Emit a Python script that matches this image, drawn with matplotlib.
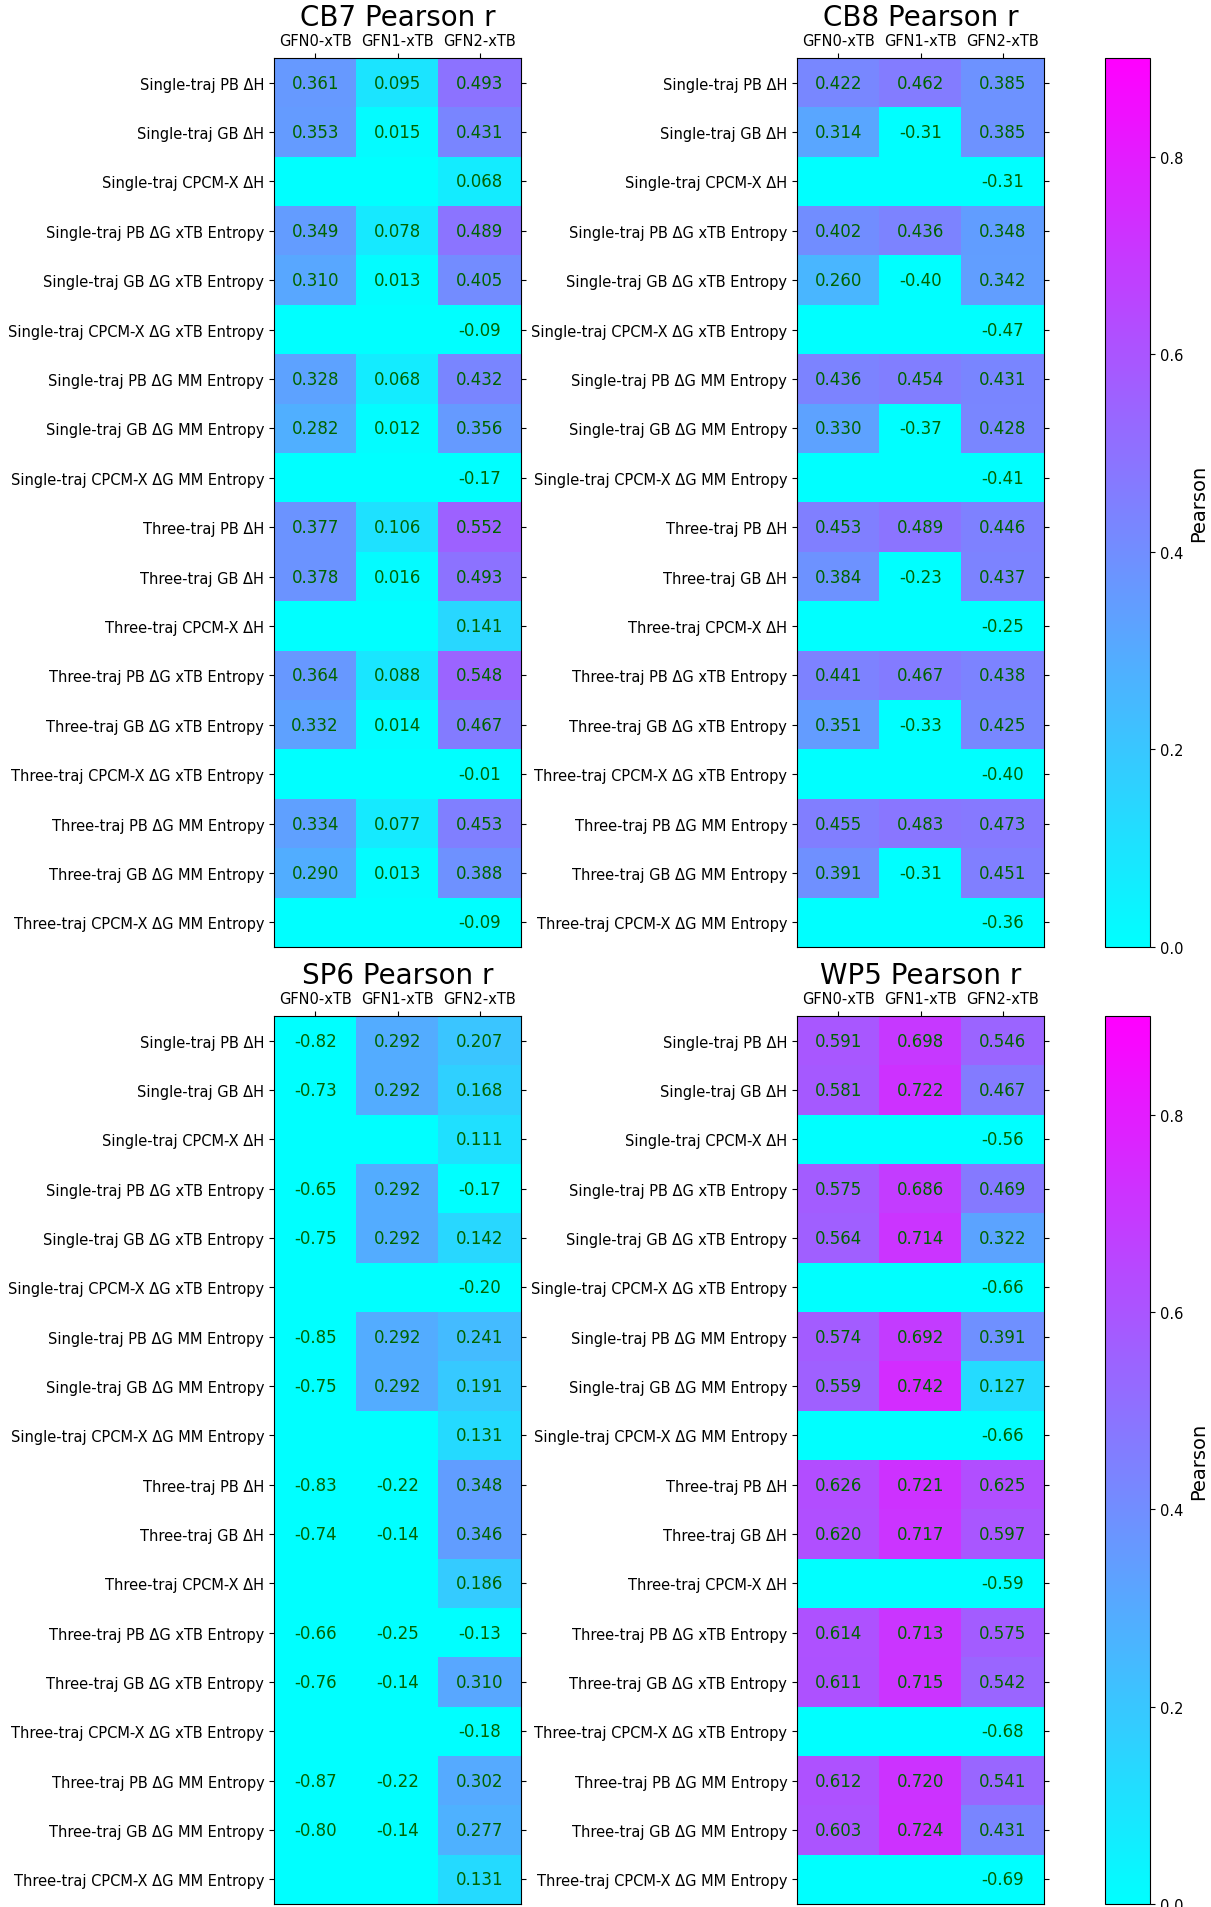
import matplotlib
matplotlib.use('Agg')
import matplotlib.pyplot as plt
import numpy as np

nan = np.nan

methods = ['GFN0-xTB', 'GFN1-xTB', 'GFN2-xTB']
rows = ['Single-traj PB ΔH', 'Single-traj GB ΔH', 'Single-traj CPCM-X ΔH',
        'Single-traj PB ΔG xTB Entropy', 'Single-traj GB ΔG xTB Entropy',
        'Single-traj CPCM-X ΔG xTB Entropy',
        'Single-traj PB ΔG MM Entropy', 'Single-traj GB ΔG MM Entropy',
        'Single-traj CPCM-X ΔG MM Entropy',
        'Three-traj PB ΔH', 'Three-traj GB ΔH', 'Three-traj CPCM-X ΔH',
        'Three-traj PB ΔG xTB Entropy', 'Three-traj GB ΔG xTB Entropy',
        'Three-traj CPCM-X ΔG xTB Entropy',
        'Three-traj PB ΔG MM Entropy', 'Three-traj GB ΔG MM Entropy',
        'Three-traj CPCM-X ΔG MM Entropy']

cb7 = [[0.361, 0.095, 0.493], [0.353, 0.015, 0.431], [nan, nan, 0.068],
       [0.349, 0.078, 0.489], [0.310, 0.013, 0.405], [nan, nan, -0.09],
       [0.328, 0.068, 0.432], [0.282, 0.012, 0.356], [nan, nan, -0.17],
       [0.377, 0.106, 0.552], [0.378, 0.016, 0.493], [nan, nan, 0.141],
       [0.364, 0.088, 0.548], [0.332, 0.014, 0.467], [nan, nan, -0.01],
       [0.334, 0.077, 0.453], [0.290, 0.013, 0.388], [nan, nan, -0.09]]

cb8 = [[0.422, 0.462, 0.385], [0.314, -0.31, 0.385], [nan, nan, -0.31],
       [0.402, 0.436, 0.348], [0.260, -0.40, 0.342], [nan, nan, -0.47],
       [0.436, 0.454, 0.431], [0.330, -0.37, 0.428], [nan, nan, -0.41],
       [0.453, 0.489, 0.446], [0.384, -0.23, 0.437], [nan, nan, -0.25],
       [0.441, 0.467, 0.438], [0.351, -0.33, 0.425], [nan, nan, -0.40],
       [0.455, 0.483, 0.473], [0.391, -0.31, 0.451], [nan, nan, -0.36]]

sp6 = [[-0.82, 0.292, 0.207], [-0.73, 0.292, 0.168], [nan, nan, 0.111],
       [-0.65, 0.292, -0.17], [-0.75, 0.292, 0.142], [nan, nan, -0.20],
       [-0.85, 0.292, 0.241], [-0.75, 0.292, 0.191], [nan, nan, 0.131],
       [-0.83, -0.22, 0.348], [-0.74, -0.14, 0.346], [nan, nan, 0.186],
       [-0.66, -0.25, -0.13], [-0.76, -0.14, 0.310], [nan, nan, -0.18],
       [-0.87, -0.22, 0.302], [-0.80, -0.14, 0.277], [nan, nan, 0.131]]

wp5 = [[0.591, 0.698, 0.546], [0.581, 0.722, 0.467], [nan, nan, -0.56],
       [0.575, 0.686, 0.469], [0.564, 0.714, 0.322], [nan, nan, -0.66],
       [0.574, 0.692, 0.391], [0.559, 0.742, 0.127], [nan, nan, -0.66],
       [0.626, 0.721, 0.625], [0.620, 0.717, 0.597], [nan, nan, -0.59],
       [0.614, 0.713, 0.575], [0.611, 0.715, 0.542], [nan, nan, -0.68],
       [0.612, 0.720, 0.541], [0.603, 0.724, 0.431], [nan, nan, -0.69]]

hosts = ['CB7', 'CB8', 'SP6', 'WP5']
tables = [cb7, cb8, sp6, wp5]

W, H = 1211, 1908
fig = plt.figure(figsize=(W / 100, H / 100), dpi=100)

cmap = plt.get_cmap('cool').copy()
cmap.set_bad(cmap(0.0))

def fmt(v):
    return f'{v:.3f}' if v >= 0 else f'{v:.2f}'

# pixel boxes (left, top, right, bottom)
boxes = [(274, 59, 521, 948), (797, 59, 1044, 948),
         (274, 1017, 521, 1905), (797, 1017, 1044, 1905)]
cbar_boxes = [(1105, 59, 1150, 948), (1105, 1017, 1150, 1905)]

def px(b):
    l, t, r, bt = b
    return [l / W, 1 - bt / H, (r - l) / W, (bt - t) / H]

ims = []
for host, tab, b in zip(hosts, tables, boxes):
    ax = fig.add_axes(px(b))
    data = np.ma.masked_invalid(np.array(tab))
    im = ax.imshow(data, cmap=cmap, vmin=0, vmax=0.9, aspect='auto')
    ims.append(im)
    arr = np.array(tab)
    for i in range(arr.shape[0]):
        for j in range(arr.shape[1]):
            if not np.isnan(arr[i, j]):
                ax.text(j, i, fmt(arr[i, j]), ha='center', va='center',
                        color='darkgreen', fontsize=12)
    ax.set_xticks(range(len(methods)))
    ax.set_xticklabels(methods, fontsize=10.5)
    ax.set_yticks(range(len(rows)))
    ax.set_yticklabels(rows, fontsize=10.5)
    ax.tick_params(top=True, labeltop=True, bottom=False, labelbottom=False,
                   right=True, labelright=False)
    ax.set_title(host + ' Pearson r', fontsize=20)

for k, cb in enumerate(cbar_boxes):
    cax = fig.add_axes(px(cb))
    c = fig.colorbar(ims[2 * k], cax=cax, ticks=[0.0, 0.2, 0.4, 0.6, 0.8])
    c.set_label('Pearson', fontsize=14)
    c.ax.tick_params(labelsize=10.5)

fig.savefig('out.png', dpi=100)
